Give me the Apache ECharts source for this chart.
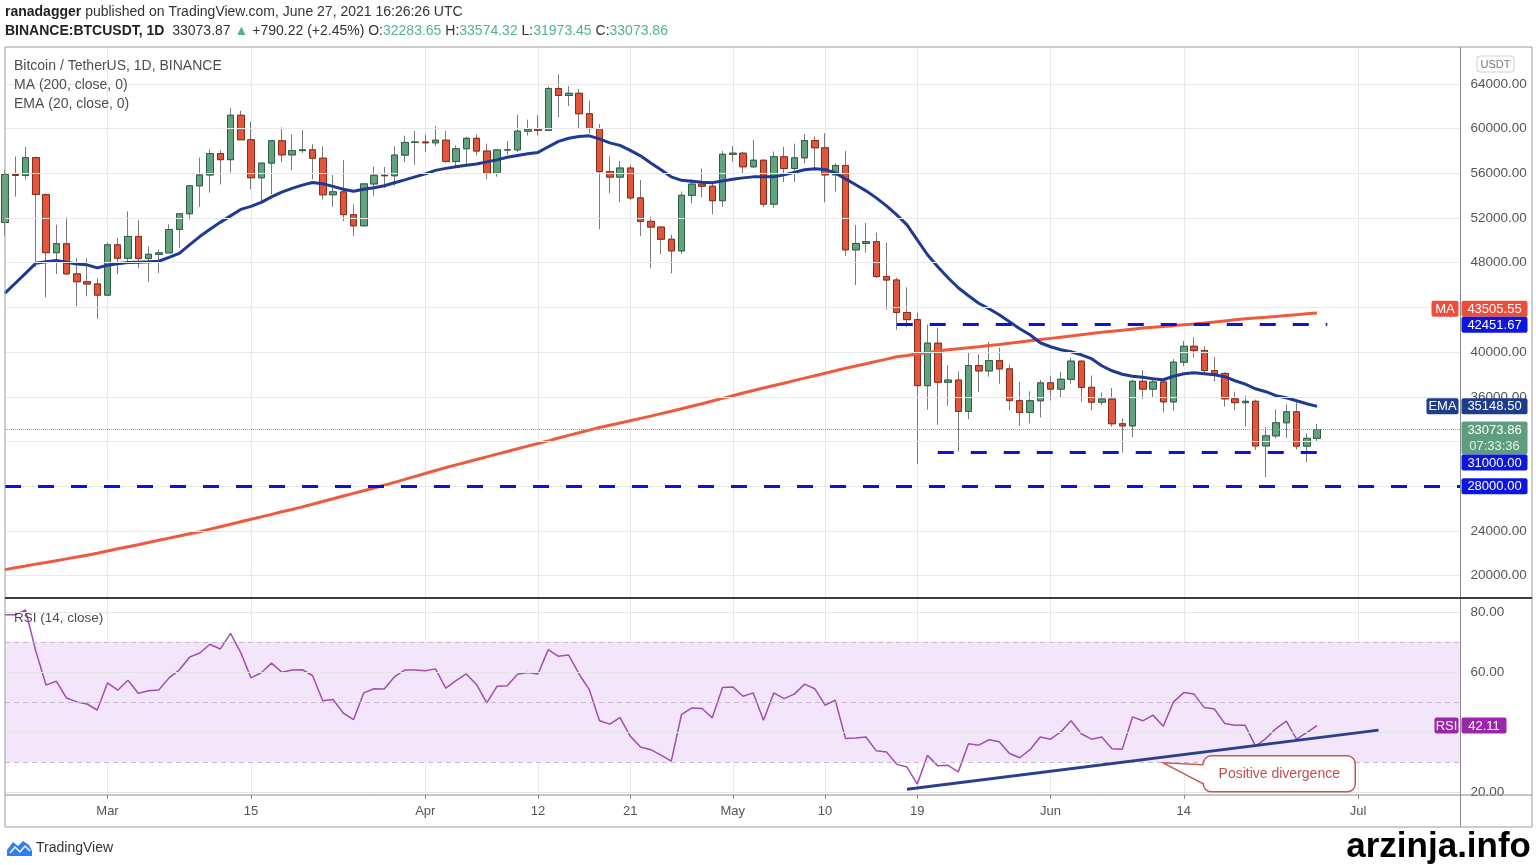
<!DOCTYPE html>
<html>
<head>
<meta charset="utf-8">
<title>BTCUSDT 1D</title>
<script src="https://cdn.jsdelivr.net/npm/echarts@6.0.0/dist/echarts.min.js"></script>
<style>
  html, body { margin: 0; padding: 0; background: #fff; }
  #chart { width: 1536px; height: 865px; }
</style>
</head>
<body>
<div id="chart"></div>
<script>
const FONT = '"Liberation Sans", Arial, sans-serif';

// daily candles, first one is 19 Feb 2021, last one (still open) 27 Jun 2021
const firstDay = [2021, 1, 19];
const dayCount = 143; // the time axis runs on to 11 Jul

const openP = [
  51600, 55900, 55800, 57400, 54100, 48900, 49700, 47000, 46300, 46100,
  45100, 49600, 48400, 50350, 48370, 48750, 48880, 50970, 52380, 54880,
  55850, 57770, 57220, 61190, 59000, 55600, 56910, 58910, 57650, 58030,
  58100, 57350, 54080, 54340, 52300, 51300, 55050, 55820, 55780, 57630,
  58760, 58800, 58730, 58960, 57060, 58200, 59130, 57990, 56000, 58090,
  58100, 59770, 59960, 59840, 63580, 62960, 63160, 61330, 60000, 56150,
  55660, 56470, 53800, 51700, 51190, 50100, 49060, 54030, 55030, 54840,
  53550, 57700, 57800, 56580, 57170, 53240, 57480, 56430, 57380, 58930,
  58280, 55860, 56700, 49150, 49720, 49880, 46760, 46450, 43540, 42910,
  37000, 40800, 37300, 37500, 34700, 38800, 38320, 39240, 38500, 35660,
  34600, 35650, 37250, 36690, 37570, 39190, 36850, 35520, 35800, 33590,
  33400, 37390, 36690, 37330, 35550, 39100, 40520, 40150, 38350, 38090,
  35820, 35480, 35600, 31610, 32510, 33680, 34660, 31590, 32283.65
];
const highP = [
  56300, 57500, 58350, 57500, 54200, 51400, 52050, 48400, 48400, 46600,
  49800, 50200, 52600, 51800, 49450, 49200, 51450, 52400, 54900, 57400,
  58150, 58050, 61850, 61600, 60630, 56940, 58980, 60100, 59450, 59880,
  58600, 58400, 55840, 57200, 53230, 55100, 56600, 56560, 58400, 59370,
  59800, 59470, 60200, 59790, 58500, 59250, 59470, 58650, 58150, 58890,
  61220, 60800, 61200, 63770, 64850, 63800, 63520, 62500, 60400, 57530,
  57100, 56760, 55400, 52130, 51200, 50500, 54360, 55470, 56430, 55200,
  58000, 58450, 57930, 58980, 57200, 57950, 58360, 58650, 59500, 59300,
  59590, 56880, 58000, 51370, 51560, 50700, 49800, 46640, 45800, 43550,
  42450, 42200, 38830, 38270, 39920, 39790, 40900, 40400, 38900, 37340,
  36490, 37500, 37890, 38230, 39480, 39240, 37900, 36400, 36790, 34070,
  37530, 38400, 37690, 37440, 39380, 41000, 41330, 40530, 39560, 38200,
  36460, 36100, 35750, 33300, 34880, 35300, 35500, 32730, 33574.32
];
const lowP = [
  50400, 53900, 55450, 47600, 44900, 47000, 46950, 44100, 45000, 43000,
  45000, 47000, 48100, 47500, 46300, 47070, 48880, 49300, 51850, 53000,
  54270, 55000, 56080, 59000, 54570, 53270, 54120, 57000, 56270, 57820,
  55450, 53650, 53000, 51700, 50400, 51230, 53950, 54690, 54900, 57000,
  56770, 57900, 58430, 56960, 56500, 56800, 57600, 55470, 55700, 57660,
  57900, 59380, 59370, 59800, 61000, 62020, 60000, 59580, 51000, 54220,
  53420, 53600, 50400, 47500, 48750, 47050, 48800, 53300, 53850, 52330,
  53000, 57050, 56000, 56460, 53000, 52900, 55200, 55240, 56900, 56240,
  53400, 54370, 48600, 46000, 48900, 46650, 43800, 42000, 42250, 30000,
  34850, 33500, 35200, 31110, 34000, 36420, 37800, 37170, 34800, 33380,
  33630, 34150, 35670, 35930, 37170, 35570, 34800, 35250, 33330, 31000,
  32400, 35800, 35940, 34600, 34760, 38730, 39500, 38120, 37370, 35130,
  34820, 33340, 31250, 28800, 32290, 32300, 31280, 30150, 31973.45
];
const closeP = [
  55900, 55800, 57400, 54100, 48900, 49700, 47000, 46300, 46100, 45100,
  49600, 48400, 50350, 48370, 48750, 48880, 50970, 52380, 54880, 55850,
  57770, 57220, 61190, 59000, 55600, 56910, 58910, 57650, 58030, 58100,
  57350, 54080, 54340, 52300, 51300, 55050, 55820, 55780, 57630, 58760,
  58800, 58730, 58960, 57060, 58200, 59130, 57990, 56000, 58090, 58100,
  59770, 59960, 59840, 63580, 62960, 63160, 61330, 60000, 56150, 55660,
  56470, 53800, 51700, 51190, 50100, 49060, 54030, 55030, 54840, 53550,
  57700, 57800, 56580, 57170, 53240, 57480, 56430, 57380, 58930, 58280,
  55860, 56700, 49150, 49720, 49880, 46760, 46450, 43540, 42910, 37000,
  40800, 37300, 37500, 34700, 38800, 38320, 39240, 38500, 35660, 34600,
  35650, 37250, 36690, 37570, 39190, 36850, 35520, 35800, 33590, 33400,
  37390, 36690, 37330, 35550, 39100, 40520, 40150, 38350, 38090, 35820,
  35480, 35600, 31610, 32510, 33680, 34660, 31590, 32283.65, 33073.86
];

// indicator values
const ema20 = [
  45280, 46160, 47050, 47950, 48080, 48200, 48040, 47880, 47810, 47540,
  47770, 47900, 48020, 48050, 48080, 48130, 48480, 48840, 49600, 50340,
  50990, 51610, 52190, 52770, 53040, 53400, 53890, 54320, 54650, 54940,
  55170, 55060, 54830, 54570, 54390, 54570, 54700, 54880, 55150, 55410,
  55680, 55950, 56260, 56440, 56580, 56710, 56830, 57020, 57200, 57430,
  57600, 57740, 57870, 58370, 58860, 59130, 59300, 59350, 59080, 58720,
  58500, 58050, 57560, 56930, 56310, 55680, 55370, 55280, 55190, 55150,
  55320, 55460, 55590, 55680, 55680, 55680, 55860, 56085, 56310, 56400,
  56350, 56040, 55500, 54970, 54430, 53800, 53090, 52280, 51390, 50050,
  48710, 47630, 46650, 45760, 45040, 44370, 43880, 43340, 42720, 42090,
  41550, 40840, 40480, 40210, 40030, 39760, 39410, 38780, 38330, 38020,
  37840, 37750, 37620, 37530, 37840, 38070, 38150, 38070, 37980, 37800,
  37440, 37130, 36720, 36460, 36100, 35920, 35650, 35380, 35148.50
];
const ma200 = [
  20540, 20700, 20860, 21030, 21180, 21340, 21500, 21660, 21830, 22010,
  22200, 22400, 22580, 22770, 22970, 23170, 23360, 23550, 23750, 23930,
  24160, 24380, 24600, 24820, 25040, 25260, 25480, 25710, 25920, 26150,
  26390, 26640, 26880, 27120, 27360, 27600, 27840, 28090, 28350, 28610,
  28880, 29140, 29410, 29670, 29910, 30150, 30390, 30630, 30870, 31110,
  31350, 31590, 31820, 32060, 32310, 32550, 32780, 33020, 33250, 33460,
  33660, 33860, 34070, 34270, 34500, 34710, 34930, 35160, 35380, 35620,
  35860, 36100, 36340, 36560, 36790, 37010, 37220, 37450, 37670, 37890,
  38110, 38330, 38560, 38760, 38960, 39170, 39370, 39580, 39700, 39840,
  39960, 40090, 40210, 40310, 40400, 40490, 40590, 40680, 40790, 40900,
  41010, 41120, 41230, 41340, 41450, 41560, 41670, 41780, 41870, 41950,
  42050, 42150, 42220, 42300, 42370, 42450, 42520, 42600, 42690, 42790,
  42890, 42980, 43050, 43110, 43190, 43270, 43350, 43430, 43505.55
];
const rsi14 = [
  79.0, 79.0, 80.6, 67.0, 55.6, 56.9, 51.3, 50.0, 49.3, 47.3,
  56.3, 53.9, 57.2, 52.9, 53.7, 54.0, 58.0, 60.6, 64.9, 66.3,
  69.2, 67.6, 72.8, 66.4, 58.0, 59.7, 62.9, 59.9, 60.6, 60.7,
  58.8, 50.4, 50.8, 46.3, 44.1, 53.0, 54.4, 54.3, 58.4, 60.6,
  60.6, 60.4, 61.0, 54.6, 57.1, 59.3, 55.8, 49.7, 55.2, 55.4,
  59.2, 59.8, 59.3, 67.4, 65.2, 65.6, 59.3, 54.1, 43.7, 42.6,
  44.8, 38.6, 35.0, 34.1, 32.3, 30.3, 45.8, 48.0, 47.8, 44.7,
  54.8, 55.0, 51.9, 53.0, 43.9, 53.0, 51.1, 52.6, 55.9, 54.4,
  48.9, 50.6, 37.8, 38.0, 38.3, 33.7, 33.3, 29.2, 28.3, 22.6,
  32.2, 28.7, 28.9, 26.7, 36.1, 35.6, 37.4, 36.7, 32.8, 31.4,
  34.1, 38.3, 37.6, 40.0, 43.7, 39.4, 37.6, 38.3, 34.4, 34.2,
  45.0, 43.7, 45.6, 41.9, 50.0, 53.1, 52.6, 48.1, 47.6, 42.8,
  42.2, 42.2, 35.3, 37.8, 41.1, 43.6, 37.6, 39.8, 42.11
];

const priceTicks = [20000, 24000, 28000, 32000, 36000, 40000, 44000, 48000, 52000, 56000, 60000, 64000];
const rsiTicks = [20, 40, 60, 80];
const rsiTickLabels = [20, 60, 80]; // 40 sits under the RSI tag
const rsiDashed = [30, 50, 70];
const rsiBand = [30, 70];
const timeLabelDays = ['2021-03-01', '2021-03-15', '2021-04-01', '2021-04-12', '2021-04-21', '2021-05-01',
  '2021-05-10', '2021-05-19', '2021-06-01', '2021-06-14', '2021-07-01'];
const timeLabelText = ['Mar', '15', 'Apr', '12', '21', 'May', '10', '19', 'Jun', '14', 'Jul'];

// header quote as printed by TradingView
const quoteLast = '33073.87';
const quoteChange = '+790.22 (+2.45%)';

// drawn levels: value, first day, last day
const levelValues = [42451.67, 31000, 28000];
const levelFrom = ['2021-05-17', '2021-05-21', '2021-02-19'];
const levelTo = ['2021-06-28', '2021-06-28', '2021-07-11'];
const lastPrice = 33073.86;
const barCountdown = '07:33:36';
const rsiTrend = [['2021-05-18', 20.9], ['2021-07-03', 40.6]];
const noteAt = ['2021-06-12', 29.7];

const days = [];
for (let i = 0; i < dayCount; i++) {
  const d = new Date(Date.UTC(firstDay[0], firstDay[1], firstDay[2] + i));
  days.push(d.toISOString().slice(0, 10));
}

// wick series draws the full range in grey, body series draws open/close only
const wickData = openP.map((o, i) => [o, closeP[i], lowP[i], highP[i]]);
const bodyData = openP.map((o, i) => [o, closeP[i], Math.min(o, closeP[i]), Math.max(o, closeP[i])]);

const isLabelDay = (idx, value) => timeLabelDays.indexOf(value) >= 0;

const chart = echarts.init(document.getElementById('chart'));

const option = {
  animation: false,
  backgroundColor: '#ffffff',
  textStyle: { fontFamily: FONT },
  grid: [
    { left: 5, right: 75.5, top: 47, height: 551 },
    { left: 5, right: 75.5, top: 598, height: 197 }
  ],
  xAxis: [
    {
      type: 'category', gridIndex: 0, data: days, boundaryGap: false,
      axisLine: { show: false }, axisTick: { show: false }, axisLabel: { show: false },
      splitLine: { show: true, interval: isLabelDay, lineStyle: { color: '#e8e8e8' } }
    },
    {
      type: 'category', gridIndex: 1, data: days, boundaryGap: false,
      axisLine: { show: false },
      axisTick: { show: true, interval: isLabelDay, length: 4, lineStyle: { color: '#8a8a8a' } },
      axisLabel: {
        interval: isLabelDay, color: '#555', fontSize: 13, margin: 10,
        formatter: (v) => timeLabelText[timeLabelDays.indexOf(v)] || ''
      },
      splitLine: { show: true, interval: isLabelDay, lineStyle: { color: '#e8e8e8' } }
    }
  ],
  yAxis: [
    {
      type: 'value', gridIndex: 0, position: 'right', min: 18000, max: 67300, interval: 2000,
      axisLine: { show: false }, axisTick: { show: false }, splitLine: { show: false },
      axisLabel: {
        color: '#555', fontSize: 13.5, margin: 10,
        formatter: (v) => priceTicks.indexOf(v) >= 0 ? v.toFixed(2) : ''
      }
    },
    {
      type: 'value', gridIndex: 1, position: 'right', min: 19, max: 84.6, interval: 1,
      axisLine: { show: false }, axisTick: { show: false }, splitLine: { show: false },
      axisLabel: {
        color: '#555', fontSize: 13.5, margin: 10,
        formatter: (v) => rsiTickLabels.indexOf(v) >= 0 ? v.toFixed(2) : ''
      }
    }
  ],
  series: [
    {
      name: 'price grid', type: 'line', xAxisIndex: 0, yAxisIndex: 0, data: closeP,
      symbol: 'none', silent: true, z: 1, lineStyle: { opacity: 0 },
      markLine: {
        silent: true, symbol: ['none', 'none'], label: { show: false },
        lineStyle: { color: '#e8e8e8', width: 1, type: 'solid' },
        data: priceTicks.map((v) => ({ yAxis: v }))
      }
    },
    {
      name: 'wicks', type: 'candlestick', xAxisIndex: 0, yAxisIndex: 0, data: wickData,
      barWidth: 7, clip: true, z: 2, silent: true,
      itemStyle: {
        color: 'rgba(0,0,0,0)', color0: 'rgba(0,0,0,0)',
        borderColor: '#7a7a7a', borderColor0: '#7a7a7a', borderWidth: 1
      }
    },
    {
      name: 'BTCUSDT', type: 'candlestick', xAxisIndex: 0, yAxisIndex: 0, data: bodyData,
      barWidth: 7, clip: true, z: 3, silent: true,
      itemStyle: {
        color: '#62a27f', color0: '#e0553b',
        borderColor: '#2f5f43', borderColor0: '#8a2c1a', borderWidth: 1
      },
      markLine: {
        silent: true, symbol: ['none', 'none'], label: { show: false },
        data: [
          [{ yAxis: lastPrice, x: 5, lineStyle: { color: '#7fa590', width: 1, type: 'dotted' } },
           { yAxis: lastPrice, x: 1460 }]
        ].concat(levelValues.map((v, i) => [
          { coord: [levelFrom[i], v], lineStyle: { color: '#0b14d4', width: 3, type: [16, 17] } },
          { coord: [levelTo[i], v] }
        ]))
      }
    },
    {
      name: 'MA', type: 'line', xAxisIndex: 0, yAxisIndex: 0, data: ma200,
      symbol: 'none', silent: true, z: 4,
      lineStyle: { color: '#ee5a3d', width: 3 }
    },
    {
      name: 'EMA', type: 'line', xAxisIndex: 0, yAxisIndex: 0, data: ema20,
      symbol: 'none', silent: true, z: 4,
      lineStyle: { color: '#1e3a92', width: 3 }
    },
    {
      name: 'rsi grid', type: 'line', xAxisIndex: 1, yAxisIndex: 1, data: rsi14,
      symbol: 'none', silent: true, z: 1, lineStyle: { opacity: 0 },
      markArea: {
        silent: true, itemStyle: { color: '#f4e6fa' },
        data: [[{ yAxis: rsiBand[0] }, { yAxis: rsiBand[1] }]]
      },
      markLine: {
        silent: true, symbol: ['none', 'none'], label: { show: false },
        data: rsiTicks.map((v) => ({ yAxis: v, lineStyle: { color: '#e4e4e4', width: 1, type: 'solid' } }))
          .concat(rsiDashed.map((v) => ({ yAxis: v, lineStyle: { color: '#c9b8cd', width: 1, type: [5, 4] } })))
      }
    },
    {
      name: 'RSI', type: 'line', xAxisIndex: 1, yAxisIndex: 1, data: rsi14,
      symbol: 'none', silent: true, z: 3,
      lineStyle: { color: '#a24db3', width: 1.5 },
      markLine: {
        silent: true, symbol: ['none', 'none'], label: { show: false },
        lineStyle: { color: '#2c3f8c', width: 3, type: 'solid' },
        data: [[{ coord: rsiTrend[0] }, { coord: rsiTrend[1] }]]
      }
    }
  ]
};

chart.setOption(option);

function tag(x, y, w, h, fill, text, textFill) {
  return [
    { type: 'rect', z: 100, shape: { x: x, y: y, width: w, height: h, r: 2 }, style: { fill: fill } },
    { type: 'text', z: 101, x: x + w / 2, y: y + h / 2 + 0.5,
      style: { text: text, fill: textFill || '#fff', font: '13px ' + FONT, align: 'center', verticalAlign: 'middle' } }
  ];
}

function overlay() {
  const py = (v) => chart.convertToPixel({ yAxisIndex: 0 }, v);
  const ry = (v) => chart.convertToPixel({ yAxisIndex: 1 }, v);
  const ax = 1460.5;
  const g = [];
  const line = (x1, y1, x2, y2, color, w) => g.push({
    type: 'line', z: 90, shape: { x1: x1, y1: y1, x2: x2, y2: y2 }, style: { stroke: color, lineWidth: w || 1 }
  });
  const txt = (x, y, text, font, fill, extra) => g.push({
    type: 'text', z: 100, x: x, y: y,
    style: Object.assign({ text: text, font: font, fill: fill, verticalAlign: 'middle' }, extra || {})
  });

  // header
  txt(5, 12, '{b|ranadagger} published on TradingView.com, June 27, 2021 16:26:26 UTC', '14px ' + FONT, '#333',
    { rich: { b: { fontWeight: 'bold', fill: '#222', fontSize: 14 } } });
  const o = openP[openP.length - 1], h = highP[highP.length - 1], l = lowP[lowP.length - 1], c = closeP[closeP.length - 1];
  txt(5, 31,
    '{b|BINANCE:BTCUSDT, 1D}  ' + quoteLast + ' {g|\u25B2} ' + quoteChange + ' ' +
    'O:{g|' + o.toFixed(2) + '} H:{g|' + h.toFixed(2) + '} L:{g|' + l.toFixed(2) + '} C:{g|' + c.toFixed(2) + '}',
    '14px ' + FONT, '#333',
    { rich: { b: { fontWeight: 'bold', fill: '#222', fontSize: 14 }, g: { fill: '#4fb39a', fontSize: 14 } } });

  // frame
  g.push({ type: 'rect', z: 90, shape: { x: 5, y: 47, width: 1527, height: 780 }, style: { fill: 'none', stroke: '#9a9a9a', lineWidth: 1 } });
  line(ax, 47, ax, 827, '#8c8c8c', 1);
  line(5, 598, 1532, 598, '#3c3c3c', 2);
  line(5, 795, 1532, 795, '#8c8c8c', 1);

  // pane legends
  txt(14, 66, 'Bitcoin / TetherUS, 1D, BINANCE', '14px ' + FONT, '#4e4e4e');
  txt(14, 85, 'MA (200, close, 0)', '14px ' + FONT, '#4e4e4e');
  txt(14, 104, 'EMA (20, close, 0)', '14px ' + FONT, '#4e4e4e');
  txt(14, 618, 'RSI (14, close)', '13.5px ' + FONT, '#4e4e4e');

  // currency box
  g.push({ type: 'rect', z: 100, shape: { x: 1477, y: 56, width: 37, height: 16, r: 3 }, style: { fill: '#fff', stroke: '#cfcfcf' } });
  txt(1495.5, 64.5, 'USDT', '11px ' + FONT, '#777', { align: 'center' });

  // price scale tags
  const maV = ma200[ma200.length - 1], emaV = ema20[ema20.length - 1];
  const lvlTop = py(levelValues[0]);
  const maC = Math.min(py(maV), lvlTop - 16);
  [].push.apply(g, tag(ax - 29, maC - 8, 27, 16, '#ee4d3c', 'MA'));
  [].push.apply(g, tag(ax + 1, maC - 8, 66, 16, '#ee4d3c', maV.toFixed(2)));
  [].push.apply(g, tag(ax + 1, lvlTop - 8, 66, 16, '#0c16e0', levelValues[0].toFixed(2)));
  const emaC = py(emaV);
  [].push.apply(g, tag(ax - 34, emaC - 8, 32, 16, '#1d3c8e', 'EMA'));
  [].push.apply(g, tag(ax + 1, emaC - 8, 66, 16, '#1d3c8e', emaV.toFixed(2)));
  const curTop = py(lastPrice) - 8;
  g.push({ type: 'rect', z: 100, shape: { x: ax + 1, y: curTop, width: 66, height: 33, r: 2 }, style: { fill: '#5e9e7e' } });
  txt(ax + 34, curTop + 8.5, lastPrice.toFixed(2), '13px ' + FONT, '#fff', { align: 'center' });
  txt(ax + 34, curTop + 24.5, barCountdown, '13px ' + FONT, '#e3f1e9', { align: 'center' });
  const lowC = Math.max(py(levelValues[1]), curTop + 33 + 8);
  [].push.apply(g, tag(ax + 1, lowC - 8, 66, 16, '#0c16e0', levelValues[1].toFixed(2)));
  [].push.apply(g, tag(ax + 1, py(levelValues[2]) - 8, 66, 16, '#0c16e0', levelValues[2].toFixed(2)));

  // RSI tags
  const rsiV = rsi14[rsi14.length - 1];
  const rC = ry(rsiV);
  [].push.apply(g, tag(ax - 26, rC - 8, 24, 16, '#9a27ab', 'RSI'));
  [].push.apply(g, tag(ax + 1, rC - 8, 45, 16, '#9a27ab', rsiV.toFixed(2)));

  // callout
  const tip = chart.convertToPixel({ xAxisIndex: 1, yAxisIndex: 1 }, noteAt);
  const bx = tip[0] + 40, by = tip[1] - 7, bw = 152, bh = 36;
  g.push({ type: 'rect', z: 100, shape: { x: bx, y: by, width: bw, height: bh, r: 8 }, style: { fill: '#fff', stroke: '#c25a4f', lineWidth: 1.5 } });
  g.push({ type: 'polygon', z: 101, shape: { points: [[bx + 2, by + 9], tip, [bx + 2, by + 28]] }, style: { fill: '#fff' } });
  g.push({ type: 'polyline', z: 102, shape: { points: [[bx, by + 9], tip, [bx, by + 28]] }, style: { stroke: '#c25a4f', lineWidth: 1.5, fill: 'none' } });
  txt(bx + bw / 2, by + bh / 2, 'Positive divergence', '14px ' + FONT, '#c0504d', { align: 'center' });

  // footer
  g.push({ type: 'polygon', z: 100, shape: { points: [[7, 856], [7, 850], [13, 842], [18, 846], [23, 841], [29, 845], [32, 851], [32, 856]] }, style: { fill: '#2e7cf6' } });
  g.push({ type: 'polyline', z: 101, shape: { points: [[10, 853], [15, 847], [20, 852], [25, 846], [30, 851]] }, style: { stroke: '#fff', lineWidth: 1.5, fill: 'none' } });
  txt(36, 848, 'TradingView', '14px ' + FONT, '#333');
  txt(1531, 847, 'arzinja.info', 'bold 35px ' + FONT, '#000', { align: 'right' });

  return g;
}

chart.setOption({ graphic: overlay() });
</script>
</body>
</html>
